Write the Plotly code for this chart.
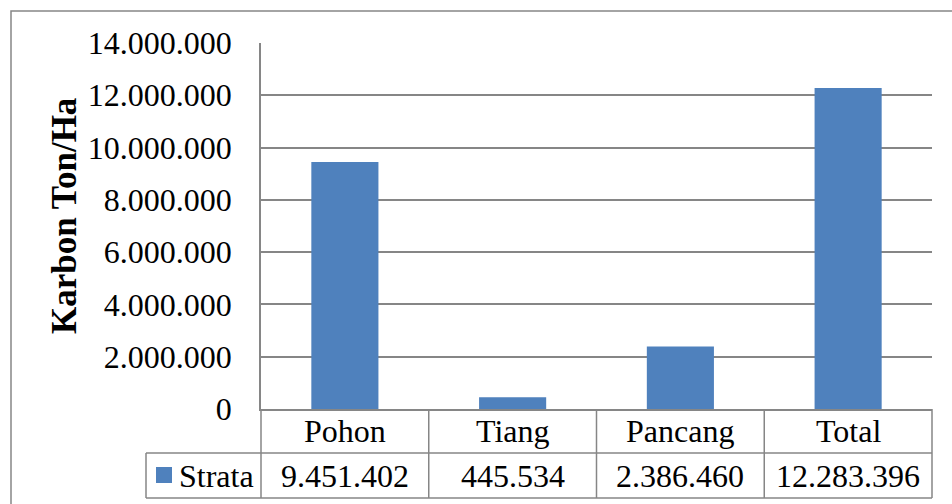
import plotly.graph_objects as go

categories = ["Pohon", "Tiang", "Pancang", "Total"]
values = [9451402, 445534, 2386460, 12283396]
value_labels = ["9.451.402", "445.534", "2.386.460", "12.283.396"]
series_name = "Strata"
y_title = "Karbon Ton/Ha"
y_ticks = [0, 2000000, 4000000, 6000000, 8000000, 10000000, 12000000, 14000000]

W, H = 952, 504
L, R, T, B = 261, 932, 43, 409
PW, PH = R - L, B - T
GRID = "#868686"
BAR = "#4F81BD"
FONT = "Liberation Serif"
FS = 32


def px(x):
    return (x - L) / PW


def py(y):
    return (B - y) / PH


fig = go.Figure()
fig.add_trace(go.Bar(x=categories, y=values, marker=dict(color=BAR, line=dict(width=0)),
                     width=0.4, name=series_name, showlegend=False))

shapes = []
# outer chart border
shapes.append(dict(type="rect", xref="paper", yref="paper", x0=px(11), x1=px(970), y0=py(11), y1=py(520),
                   line=dict(color=GRID, width=1.5), fillcolor="rgba(0,0,0,0)", layer="below"))
row1 = 453
row2 = 498
# table horizontal lines
shapes.append(dict(type="line", xref="paper", yref="paper", x0=px(146), x1=px(R), y0=py(row1), y1=py(row1),
                   line=dict(color=GRID, width=1.5)))
shapes.append(dict(type="line", xref="paper", yref="paper", x0=px(146), x1=px(R), y0=py(row2), y1=py(row2),
                   line=dict(color=GRID, width=1.5)))
# vertical lines
for xv in [L, R]:
    shapes.append(dict(type="line", xref="paper", yref="paper", x0=px(xv), x1=px(xv), y0=py(B), y1=py(row2),
                       line=dict(color=GRID, width=1.5)))
shapes.append(dict(type="line", xref="paper", yref="paper", x0=px(146), x1=px(146), y0=py(row1), y1=py(row2),
                   line=dict(color=GRID, width=1.5)))
for i in range(len(categories) - 1):
    shapes.append(dict(type="line", xref="x", yref="paper", x0=i + 0.5, x1=i + 0.5, y0=py(B), y1=py(row2),
                       line=dict(color=GRID, width=1.5)))
# legend key
shapes.append(dict(type="rect", xref="paper", yref="paper", x0=px(156), x1=px(172), y0=py(467), y1=py(483),
                   line=dict(width=0), fillcolor=BAR))

annotations = []
for c, v in zip(categories, value_labels):
    annotations.append(dict(x=c, xref="x", y=py(431), yref="paper", text=c, showarrow=False,
                            xanchor="center", yanchor="middle", font=dict(size=FS)))
    annotations.append(dict(x=c, xref="x", y=py(476), yref="paper", text=v, showarrow=False,
                            xanchor="center", yanchor="middle", font=dict(size=FS)))
annotations.append(dict(x=px(177), xref="paper", y=py(476), yref="paper", text=series_name, showarrow=False,
                        xanchor="left", yanchor="middle", font=dict(size=FS)))
annotations.append(dict(x=px(64), xref="paper", y=py(216), yref="paper", text="<b>" + y_title + "</b>",
                        showarrow=False, textangle=-90, xanchor="center", yanchor="middle",
                        font=dict(size=35)))

fig.update_layout(
    width=W, height=H,
    margin=dict(l=L, r=W - R, t=T, b=H - B, pad=0),
    paper_bgcolor="white", plot_bgcolor="white",
    font=dict(family=FONT, size=FS, color="black"),
    separators=",.",
    shapes=shapes, annotations=annotations,
    xaxis=dict(type="category", range=[-0.5, 3.5], showticklabels=False, ticks="",
               showline=True, linecolor=GRID, linewidth=1.5, showgrid=False, zeroline=False, fixedrange=True),
    yaxis=dict(range=[0, 14000000], tickvals=y_ticks, tickformat=",d", showgrid=True, gridcolor=GRID,
               gridwidth=1.5, zeroline=False, showline=True, linecolor=GRID, linewidth=1.5,
               ticks="outside", ticklen=21, tickcolor="rgba(0,0,0,0)",
               tickfont=dict(size=FS, family=FONT), fixedrange=True),
    bargap=0.6,
)

fig.write_html("out.html")
